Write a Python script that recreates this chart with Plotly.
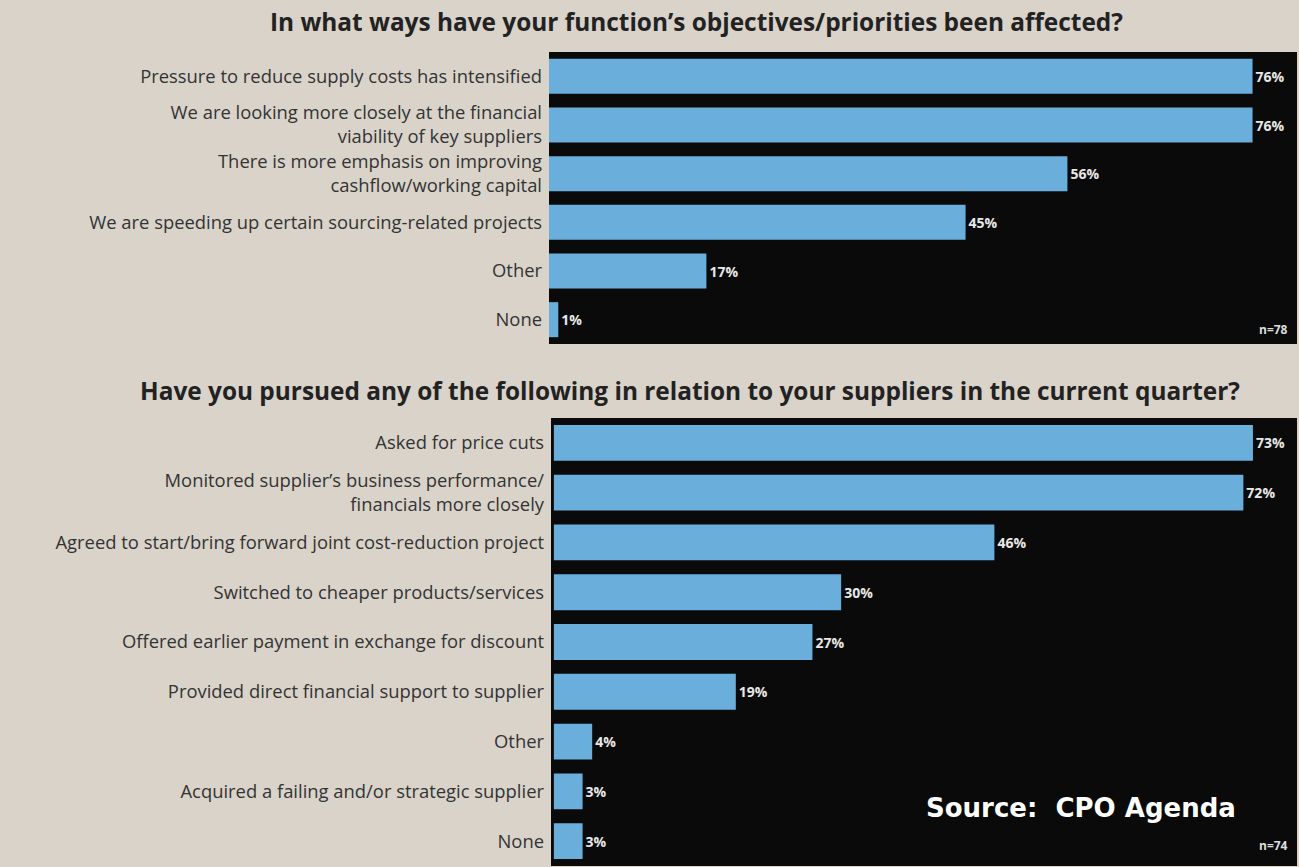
import plotly.graph_objects as go

W, H = 1299, 867

top_title = "In what ways have your function’s objectives/priorities been affected?"
top_cats = [
    "Pressure to reduce supply costs has intensified",
    "We are looking more closely at the financial<br>viability of key suppliers",
    "There is more emphasis on improving<br>cashflow/working capital",
    "We are speeding up certain sourcing-related projects",
    "Other",
    "None",
]
top_vals = [76, 76, 56, 45, 17, 1]
top_n = "n=78"

bot_title = "Have you pursued any of the following in relation to your suppliers in the current quarter?"
bot_cats = [
    "Asked for price cuts",
    "Monitored supplier’s business performance/<br>financials more closely",
    "Agreed to start/bring forward joint cost-reduction project",
    "Switched to cheaper products/services",
    "Offered earlier payment in exchange for discount",
    "Provided direct financial support to supplier",
    "Other",
    "Acquired a failing and/or strategic supplier",
    "None",
]
bot_vals = [73, 72, 46, 30, 27, 19, 4, 3, 3]
bot_n = "n=74"

source_text = "Source:  CPO Agenda"

BG = "#d9d3ca"
PLOT_BG = "#0a0a0a"
BAR = "#6aaedb"
LABEL = "#333333"
FONT = "Open Sans"

def px_x(p):
    return p / W

def px_y(p):
    return 1 - p / H

fig = go.Figure()

fig.add_trace(go.Bar(
    y=top_cats, x=top_vals, orientation="h",
    marker=dict(color=BAR, line=dict(width=0)),
    width=0.72,
    text=[f"{v}%" for v in top_vals], textposition="outside",
    textfont=dict(family=FONT, size=14, color="#e8e8e8", weight="bold"),
    cliponaxis=False, xaxis="x", yaxis="y", showlegend=False,
))
fig.add_trace(go.Bar(
    y=bot_cats, x=bot_vals, orientation="h",
    marker=dict(color=BAR, line=dict(width=0)),
    width=0.72,
    text=[f"{v}%" for v in bot_vals], textposition="outside",
    textfont=dict(family=FONT, size=14, color="#e8e8e8", weight="bold"),
    cliponaxis=False, xaxis="x2", yaxis="y2", showlegend=False,
))

axis_common = dict(showgrid=False, zeroline=False, showticklabels=False, ticks="", showline=False, fixedrange=True)
ycommon = dict(showgrid=False, zeroline=False, ticks="", showline=False, autorange="reversed",
               tickfont=dict(family=FONT, size=18.4, color=LABEL), ticklabelstandoff=6)

fig.update_layout(
    width=W, height=H,
    margin=dict(l=0, r=0, t=0, b=0),
    paper_bgcolor=BG,
    plot_bgcolor=PLOT_BG,
    bargap=0.28,
    xaxis=dict(domain=[px_x(549), px_x(1297)], range=[0, 80.8], anchor="y", **axis_common),
    yaxis=dict(domain=[px_y(344), px_y(52)], anchor="x", **ycommon),
    xaxis2=dict(domain=[px_x(551), px_x(1297)], range=[-0.3, 77.6], anchor="y2", **axis_common),
    yaxis2=dict(domain=[px_y(866), px_y(418)], anchor="x2", **ycommon),
    annotations=[
        dict(text=top_title, x=px_x(697), y=px_y(22), xref="paper", yref="paper",
             xanchor="center", yanchor="middle", showarrow=False,
             font=dict(family=FONT, size=24.4, color="#222222", weight="bold")),
        dict(text=bot_title, x=px_x(690), y=px_y(391), xref="paper", yref="paper",
             xanchor="center", yanchor="middle", showarrow=False,
             font=dict(family=FONT, size=24.4, color="#222222", weight="bold")),
        dict(text=top_n, x=px_x(1290), y=px_y(329), xref="paper", yref="paper",
             xanchor="right", yanchor="middle", showarrow=False,
             font=dict(family=FONT, size=12, color="#dddddd", weight="bold")),
        dict(text=bot_n, x=px_x(1290), y=px_y(845), xref="paper", yref="paper",
             xanchor="right", yanchor="middle", showarrow=False,
             font=dict(family=FONT, size=12, color="#dddddd", weight="bold")),
        dict(text=source_text, x=px_x(1238), y=px_y(808), xref="paper", yref="paper",
             xanchor="right", yanchor="middle", showarrow=False,
             font=dict(family="DejaVu Sans", size=26, color="#ffffff", weight="bold")),
    ],
)

fig.write_html("out.html")
